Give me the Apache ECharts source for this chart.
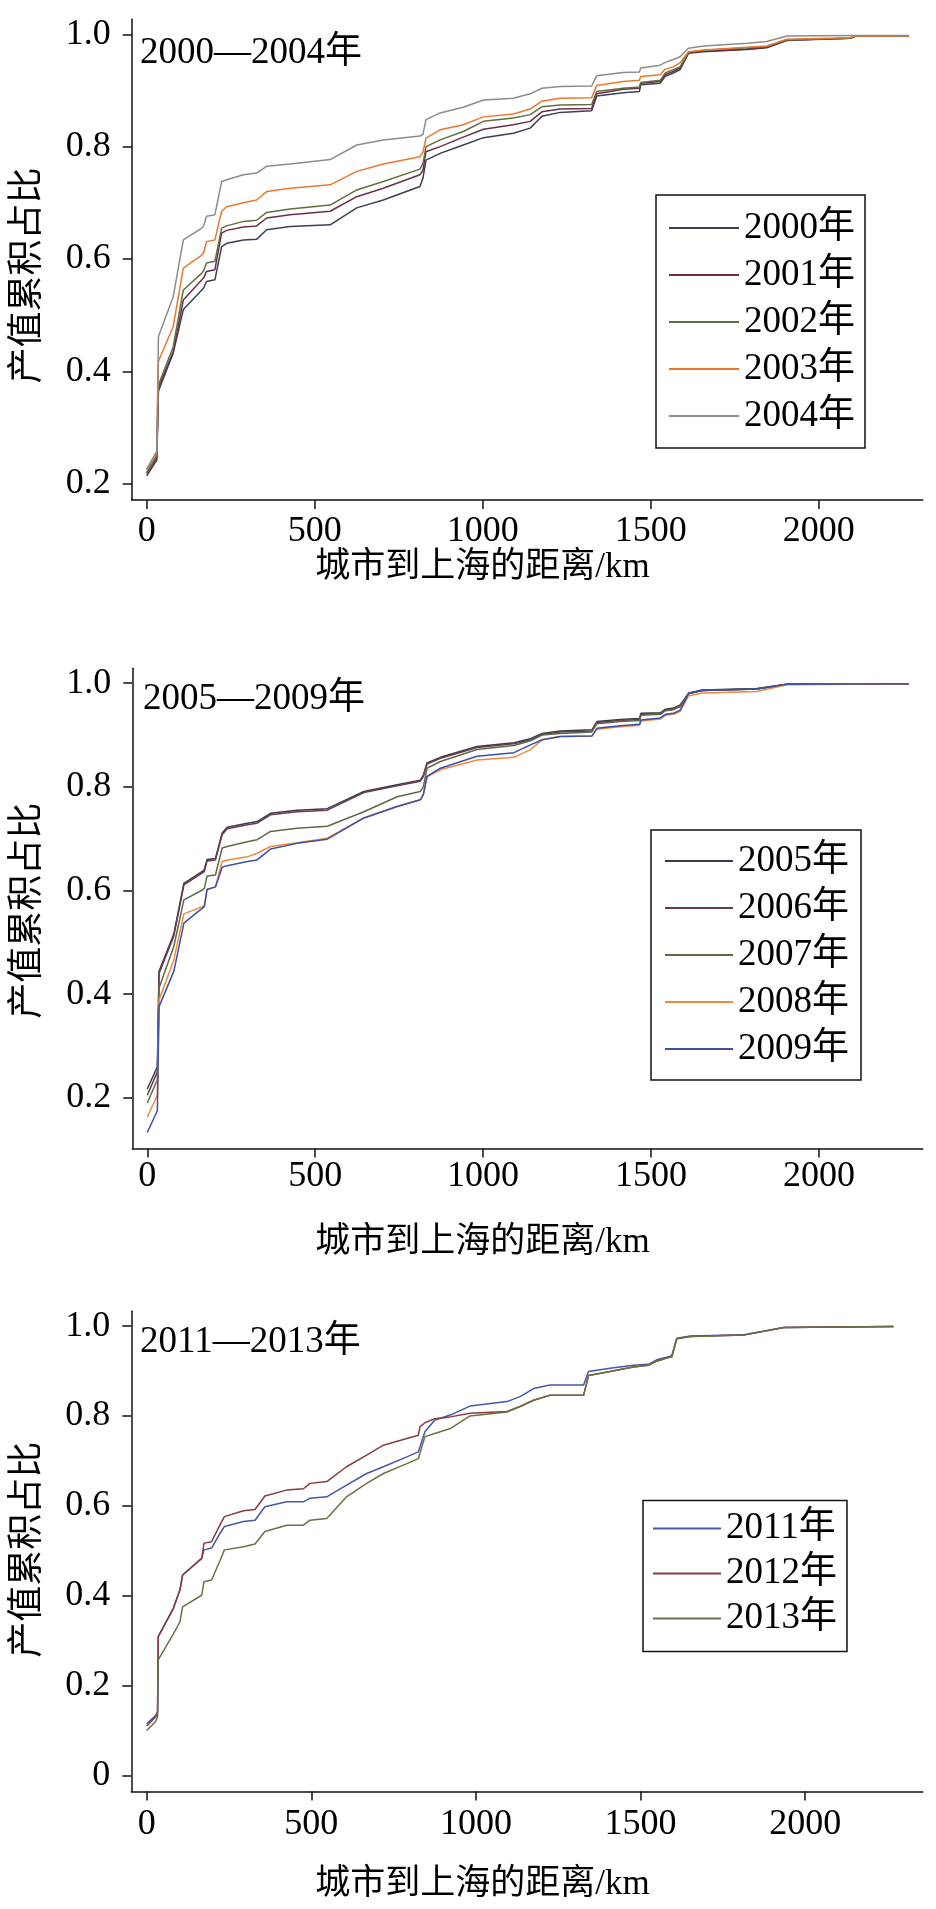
<!DOCTYPE html>
<html>
<head>
<meta charset="utf-8">
<script src="https://cdn.jsdelivr.net/npm/echarts@6/dist/echarts.min.js"></script>
<style>
html,body{margin:0;padding:0;background:#fff;}
#chart{width:936px;height:1909px;}
</style>
</head>
<body>
<div id="chart"></div>
<script>
// ---------- tick labels ----------
const xTicks = [0, 500, 1000, 1500, 2000];
const yTicksA = [0.2, 0.4, 0.6, 0.8, 1.0];
const yTicksB = [0, 0.2, 0.4, 0.6, 0.8, 1.0];

// ---------- panel 1: 2000—2004 ----------
const dist1 = [0, 30, 35, 79, 109, 164, 170, 178, 203, 223, 238, 288, 327, 357, 427, 546, 625, 704, 813, 822, 831, 873, 942, 1002, 1091, 1141, 1176, 1230, 1324, 1339, 1418, 1466, 1470, 1528, 1543, 1567, 1587, 1612, 1657, 1786, 1845, 1905, 2093, 2110, 2267];
const y2000 = [0.214, 0.242, 0.365, 0.433, 0.510, 0.545, 0.549, 0.560, 0.563, 0.622, 0.628, 0.634, 0.635, 0.652, 0.658, 0.661, 0.691, 0.705, 0.729, 0.744, 0.776, 0.788, 0.803, 0.816, 0.824, 0.833, 0.854, 0.861, 0.864, 0.890, 0.896, 0.898, 0.910, 0.913, 0.925, 0.931, 0.937, 0.966, 0.969, 0.973, 0.976, 0.989, 0.993, 0.997, 0.997];
const y2001 = [0.218, 0.246, 0.372, 0.435, 0.527, 0.563, 0.567, 0.578, 0.581, 0.646, 0.651, 0.657, 0.659, 0.673, 0.679, 0.685, 0.711, 0.726, 0.750, 0.758, 0.791, 0.800, 0.817, 0.831, 0.839, 0.845, 0.862, 0.867, 0.868, 0.894, 0.902, 0.904, 0.913, 0.916, 0.928, 0.934, 0.940, 0.967, 0.970, 0.974, 0.977, 0.990, 0.993, 0.997, 0.997];
const y2002 = [0.220, 0.250, 0.376, 0.444, 0.545, 0.575, 0.580, 0.593, 0.596, 0.655, 0.659, 0.667, 0.669, 0.683, 0.689, 0.696, 0.723, 0.738, 0.760, 0.770, 0.800, 0.812, 0.827, 0.845, 0.851, 0.857, 0.871, 0.874, 0.875, 0.898, 0.904, 0.906, 0.914, 0.918, 0.931, 0.937, 0.942, 0.968, 0.971, 0.976, 0.978, 0.990, 0.993, 0.997, 0.997];
const y2003 = [0.224, 0.255, 0.418, 0.480, 0.584, 0.607, 0.612, 0.631, 0.634, 0.685, 0.693, 0.700, 0.705, 0.720, 0.726, 0.732, 0.756, 0.769, 0.782, 0.790, 0.815, 0.830, 0.839, 0.853, 0.858, 0.867, 0.881, 0.886, 0.887, 0.909, 0.916, 0.918, 0.925, 0.928, 0.938, 0.942, 0.949, 0.969, 0.972, 0.977, 0.979, 0.991, 0.994, 0.997, 0.997];
const y2004 = [0.226, 0.258, 0.462, 0.533, 0.634, 0.655, 0.660, 0.676, 0.679, 0.738, 0.741, 0.750, 0.753, 0.765, 0.769, 0.777, 0.803, 0.812, 0.819, 0.822, 0.848, 0.860, 0.870, 0.883, 0.886, 0.894, 0.904, 0.907, 0.908, 0.926, 0.932, 0.933, 0.940, 0.945, 0.950, 0.955, 0.960, 0.975, 0.979, 0.984, 0.987, 0.997, 0.998, 0.998, 0.998];

// ---------- panel 2: 2005—2009 ----------
const dist2 = [0, 30, 35, 79, 109, 164, 170, 178, 203, 223, 238, 298, 327, 367, 446, 536, 645, 744, 813, 822, 833, 873, 982, 1092, 1141, 1176, 1230, 1324, 1339, 1408, 1466, 1470, 1528, 1543, 1567, 1587, 1612, 1652, 1815, 1905, 2267];
const y2005 = [0.217, 0.260, 0.444, 0.516, 0.614, 0.637, 0.640, 0.660, 0.662, 0.711, 0.722, 0.730, 0.733, 0.749, 0.755, 0.758, 0.791, 0.804, 0.813, 0.822, 0.846, 0.857, 0.878, 0.885, 0.893, 0.903, 0.908, 0.910, 0.926, 0.930, 0.932, 0.942, 0.943, 0.950, 0.952, 0.958, 0.981, 0.987, 0.990, 0.998, 0.999];
const y2006 = [0.205, 0.250, 0.440, 0.512, 0.611, 0.634, 0.637, 0.657, 0.659, 0.708, 0.719, 0.727, 0.730, 0.746, 0.752, 0.755, 0.789, 0.802, 0.811, 0.820, 0.844, 0.855, 0.876, 0.883, 0.891, 0.901, 0.906, 0.908, 0.924, 0.928, 0.930, 0.940, 0.941, 0.948, 0.950, 0.956, 0.980, 0.986, 0.989, 0.998, 0.999];
const y2007 = [0.190, 0.235, 0.412, 0.492, 0.582, 0.601, 0.604, 0.628, 0.630, 0.682, 0.685, 0.694, 0.698, 0.714, 0.720, 0.724, 0.752, 0.781, 0.791, 0.800, 0.836, 0.849, 0.872, 0.880, 0.889, 0.900, 0.903, 0.906, 0.922, 0.926, 0.928, 0.938, 0.940, 0.947, 0.949, 0.955, 0.980, 0.986, 0.989, 0.998, 0.999];
const y2008 = [0.163, 0.205, 0.389, 0.466, 0.555, 0.569, 0.572, 0.602, 0.607, 0.656, 0.659, 0.665, 0.672, 0.685, 0.692, 0.701, 0.740, 0.762, 0.775, 0.785, 0.820, 0.833, 0.852, 0.857, 0.872, 0.891, 0.897, 0.898, 0.911, 0.916, 0.919, 0.927, 0.931, 0.938, 0.940, 0.946, 0.976, 0.981, 0.984, 0.997, 0.999];
const y2009 = [0.133, 0.175, 0.376, 0.444, 0.537, 0.566, 0.569, 0.602, 0.607, 0.645, 0.648, 0.656, 0.659, 0.680, 0.691, 0.699, 0.740, 0.762, 0.775, 0.785, 0.820, 0.836, 0.859, 0.866, 0.881, 0.891, 0.897, 0.898, 0.913, 0.918, 0.921, 0.929, 0.933, 0.940, 0.942, 0.948, 0.980, 0.986, 0.989, 0.998, 0.999];

// ---------- panel 3: 2011—2013 ----------
const dist3 = [0, 27, 33, 35, 81, 101, 109, 167, 174, 197, 223, 236, 294, 329, 359, 425, 476, 496, 547, 607, 668, 719, 790, 825, 830, 845, 875, 922, 982, 1094, 1134, 1175, 1225, 1327, 1342, 1407, 1478, 1524, 1549, 1579, 1595, 1610, 1651, 1813, 1935, 2268];
const y2011 = [0.115, 0.133, 0.142, 0.309, 0.372, 0.413, 0.446, 0.483, 0.502, 0.506, 0.539, 0.554, 0.565, 0.568, 0.598, 0.609, 0.609, 0.617, 0.620, 0.646, 0.672, 0.687, 0.709, 0.720, 0.723, 0.765, 0.791, 0.802, 0.822, 0.832, 0.843, 0.861, 0.869, 0.869, 0.899, 0.906, 0.913, 0.915, 0.925, 0.931, 0.934, 0.973, 0.978, 0.981, 0.997, 0.999];
const y2012 = [0.110, 0.130, 0.140, 0.309, 0.372, 0.413, 0.446, 0.483, 0.517, 0.520, 0.558, 0.576, 0.589, 0.592, 0.622, 0.635, 0.638, 0.650, 0.654, 0.687, 0.713, 0.735, 0.750, 0.757, 0.776, 0.785, 0.794, 0.798, 0.806, 0.810, 0.821, 0.835, 0.846, 0.846, 0.890, 0.899, 0.909, 0.913, 0.922, 0.929, 0.932, 0.972, 0.977, 0.980, 0.997, 0.999];
const y2013 = [0.100, 0.120, 0.130, 0.257, 0.315, 0.342, 0.375, 0.401, 0.431, 0.435, 0.479, 0.502, 0.509, 0.515, 0.543, 0.557, 0.557, 0.568, 0.572, 0.620, 0.650, 0.672, 0.694, 0.705, 0.709, 0.754, 0.761, 0.772, 0.800, 0.809, 0.821, 0.835, 0.846, 0.846, 0.890, 0.899, 0.909, 0.913, 0.922, 0.929, 0.932, 0.972, 0.977, 0.980, 0.997, 0.999];

const panelTitles = ['2000—2004年', '2005—2009年', '2011—2013年'];
const xTitle = '城市到上海的距离/km';
const yTitle = '产值累积占比';

// ---------- styling ----------
const FONT = "'Liberation Serif','Noto Sans CJK SC',serif";
const INK = '#111';

const panels = [
  { grid: {left: 131.7, top: 19.1, width: 791, height: 481}, xmin: -44.6, xmax: 2309, ymin: 0.171, ymax: 1.027, yTicks: yTicksA, xMargin: 13,
    legend: {left: 656, top: 195, itemWidth: 70, itemGap: 7, padding: [13, 10, 12, 13]},
    titleY: 56, titleX: 140, xTitleY: 568, yTitleY: 275.5,
    series: [['2000年', dist1, y2000, '#3b3f58'], ['2001年', dist1, y2001, '#6e2e45'], ['2002年', dist1, y2002, '#5e7040'], ['2003年', dist1, y2003, '#e8782e'], ['2004年', dist1, y2004, '#8c8c8c']] },
  { grid: {left: 132.3, top: 668.2, width: 790.4, height: 480.4}, xmin: -44.6, xmax: 2309, ymin: 0.102, ymax: 1.029, yTicks: yTicksA, xMargin: 10,
    legend: {left: 651, top: 830, itemWidth: 68, itemGap: 7, padding: [11, 12, 11, 14]},
    titleY: 702, titleX: 143, xTitleY: 1243, yTitleY: 910.8,
    series: [['2005年', dist2, y2005, '#3a3a48'], ['2006年', dist2, y2006, '#6b3a52'], ['2007年', dist2, y2007, '#5b6b45'], ['2008年', dist2, y2008, '#ee8a3c'], ['2009年', dist2, y2009, '#3c4fa8']] },
  { grid: {left: 131.3, top: 1311.3, width: 791.4, height: 480.1}, xmin: -46.8, xmax: 2357, ymin: -0.0356, ymax: 1.033, yTicks: yTicksB, xMargin: 15,
    legend: {left: 643, top: 1500.6, itemWidth: 68, itemGap: 5, padding: [8, 10, 13, 10]},
    titleY: 1344.5, titleX: 140, xTitleY: 1885, yTitleY: 1549.7,
    series: [['2011年', dist3, y2011, '#4656a8'], ['2012年', dist3, y2012, '#8a3a3f'], ['2013年', dist3, y2013, '#6b7045']] }
];

const axisLineStyle = {color: INK, width: 1.5};
const grids = [], xAxes = [], yAxes = [], series = [], legends = [], graphics = [];

panels.forEach((p, i) => {
  grids.push(Object.assign({containLabel: false}, p.grid));
  xAxes.push({
    type: 'value', gridIndex: i, min: p.xmin, max: p.xmax,
    axisLine: {show: true, onZero: false, lineStyle: axisLineStyle},
    axisTick: {show: true, length: 9, inside: false, lineStyle: axisLineStyle, customValues: xTicks},
    axisLabel: {show: true, customValues: xTicks, margin: p.xMargin, color: '#000', fontFamily: FONT, fontSize: 36,
      formatter: v => String(Math.round(v))},
    splitLine: {show: false}
  });
  yAxes.push({
    type: 'value', gridIndex: i, min: p.ymin, max: p.ymax,
    axisLine: {show: true, onZero: false, lineStyle: axisLineStyle},
    axisTick: {show: true, length: 9, inside: false, lineStyle: axisLineStyle, customValues: p.yTicks},
    axisLabel: {show: true, customValues: p.yTicks, margin: 21, color: '#000', fontFamily: FONT, fontSize: 36,
      formatter: v => (Math.abs(v) < 1e-9 ? '0' : Number(v).toFixed(1))},
    splitLine: {show: false}
  });
  const names = [];
  p.series.forEach(([name, xs, ys, color]) => {
    names.push(name);
    series.push({
      type: 'line', name, xAxisIndex: i, yAxisIndex: i,
      data: xs.map((x, k) => [x, ys[k]]),
      symbol: 'none', showSymbol: false, smooth: false,
      lineStyle: {color, width: 1.5}, itemStyle: {color},
      animation: false, silent: true
    });
  });
  legends.push(Object.assign({
    orient: 'vertical', data: names, selectedMode: false, icon: 'rect',
    itemHeight: 2, borderColor: INK, borderWidth: 1.5, backgroundColor: '#fff',
    textStyle: {fontFamily: FONT, fontSize: 37, color: '#000', lineHeight: 40}
  }, p.legend));
  graphics.push({type: 'text', left: p.titleX, top: p.titleY - 21,
    style: {text: panelTitles[i], font: "37px " + FONT, fill: '#000'}});
  graphics.push({type: 'text', x: 482.5, y: p.xTitleY,
    style: {text: xTitle, font: "35px " + FONT, fill: '#000', textAlign: 'center', textVerticalAlign: 'middle'}});
  graphics.push({type: 'text', x: 28.3, y: p.yTitleY, rotation: Math.PI / 2,
    style: {text: yTitle, font: "36px " + FONT, fill: '#000', textAlign: 'center', textVerticalAlign: 'middle'}});
});

const chart = echarts.init(document.getElementById('chart'), null, {renderer: 'canvas'});
chart.setOption({
  backgroundColor: '#fff',
  animation: false,
  grid: grids, xAxis: xAxes, yAxis: yAxes, series, legend: legends,
  graphic: graphics
});
</script>
</body>
</html>
